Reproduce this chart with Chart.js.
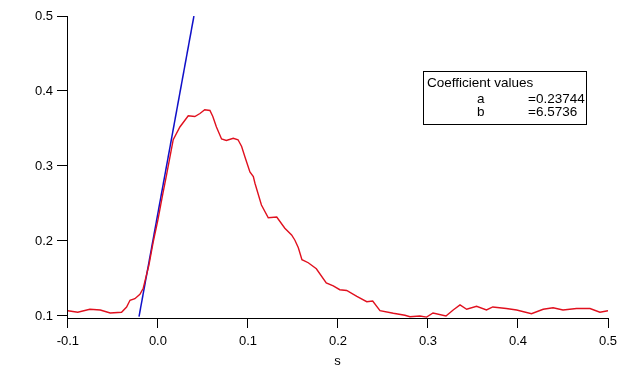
<!DOCTYPE html>
<html>
<head>
<meta charset="utf-8">
<script src="https://cdn.jsdelivr.net/npm/chart.js@4.4.1/dist/chart.umd.min.js"></script>
<style>
  html, body { margin: 0; padding: 0; background: #fff; }
  #wrap { width: 640px; height: 368px; }
</style>
</head>
<body>
<div id="wrap"><canvas id="myChart" width="640" height="368"></canvas></div>
<script>
// red trace
const sigX = [-0.1, -0.089, -0.0756, -0.064, -0.053, -0.0404, -0.0348, -0.031, -0.0256, -0.02, -0.0163,
  -0.01, -0.005, 0.0, 0.005, 0.0096, 0.017, 0.0244, 0.0337, 0.041, 0.0467, 0.052, 0.0578, 0.061,
  0.065, 0.0707, 0.076, 0.0837, 0.089, 0.093, 0.0967, 0.1022, 0.106, 0.1078, 0.115, 0.1226, 0.132,
  0.141, 0.1485, 0.1522, 0.156, 0.16, 0.167, 0.176, 0.187, 0.1948, 0.202, 0.2097, 0.221, 0.232,
  0.2386, 0.2467, 0.2615, 0.2744, 0.28, 0.291, 0.2985, 0.3056, 0.32, 0.328, 0.3356, 0.343, 0.354,
  0.365, 0.372, 0.387, 0.3985, 0.415, 0.428, 0.439, 0.45, 0.465, 0.48, 0.491, 0.5];
const sigY = [0.107, 0.105, 0.109, 0.108, 0.104, 0.105, 0.112, 0.121, 0.123, 0.129, 0.137,
  0.168, 0.2, 0.228, 0.26, 0.288, 0.335, 0.352, 0.367, 0.366, 0.370, 0.375, 0.374, 0.366,
  0.352, 0.336, 0.334, 0.337, 0.335, 0.326, 0.312, 0.292, 0.286, 0.277, 0.248, 0.231, 0.232,
  0.217, 0.208, 0.201, 0.191, 0.175, 0.171, 0.163, 0.144, 0.140, 0.135, 0.134, 0.126, 0.119,
  0.120, 0.107, 0.1036, 0.101, 0.099, 0.100, 0.0985, 0.104, 0.100, 0.108, 0.1147, 0.109, 0.113,
  0.108, 0.112, 0.110, 0.108, 0.103, 0.109, 0.111, 0.108, 0.110, 0.110, 0.105, 0.107];

// blue fitted line, end points
const fitX = [-0.021, 0.040];
const fitY = [0.099, 0.500];

const xTicks = [-0.1, 0.0, 0.1, 0.2, 0.3, 0.4, 0.5];
const yTicks = [0.1, 0.2, 0.3, 0.4, 0.5];

const coefNames = ['a', 'b'];
const coefValues = ['=0.23744', '=6.5736'];

const FONT = 'Arial, "Liberation Sans", sans-serif';

const coefBox = {
  id: 'coefBox',
  afterDraw(chart) {
    const c = chart.ctx;
    c.save();
    c.fillStyle = '#fff';
    c.fillRect(423, 71, 163, 53);
    c.strokeStyle = '#000';
    c.lineWidth = 1;
    c.strokeRect(423.5, 71.5, 163, 53);
    c.fillStyle = '#000';
    c.font = '13.5px ' + FONT;
    c.textBaseline = 'alphabetic';
    c.fillText('Coefficient values', 427, 87);
    coefNames.forEach((n, i) => {
      c.fillText(n, 477, 103 + i * 13);
      c.fillText(coefValues[i], 528, 103 + i * 13);
    });
    c.restore();
  }
};

const ctx = document.getElementById('myChart');
const myChart = new Chart(ctx, {
  type: 'scatter',
  data: {
    datasets: [{
      label: 'signal',
      data: sigX.map((x, i) => ({x: x, y: sigY[i]})),
      showLine: true,
      borderColor: '#e0101e',
      borderWidth: 1.4,
      pointRadius: 0,
      tension: 0
    }, {
      label: 'fit',
      data: fitX.map((x, i) => ({x: x, y: fitY[i]})),
      showLine: true,
      borderColor: '#1010c8',
      borderWidth: 1.5,
      pointRadius: 0
    }]
  },
  options: {
    responsive: false,
    animation: false,
    layout: { padding: { top: 16, right: 32, left: 0, bottom: 0 } },
    plugins: { legend: { display: false }, tooltip: { enabled: false } },
    scales: {
      x: {
        type: 'linear',
        min: -0.101,
        max: 0.5,
        afterBuildTicks: s => { s.ticks = xTicks.map(v => ({value: v})); },
        afterFit: s => { s.height = 50; },
        ticks: {
          color: '#000',
          font: { family: FONT, size: 13 },
          padding: 6,
          maxRotation: 0,
          callback: v => v.toFixed(1)
        },
        grid: { drawOnChartArea: false, drawTicks: true, tickLength: 10, color: '#000' },
        border: { color: '#000', width: 1 },
        title: {
          display: true,
          text: 's',
          color: '#000',
          font: { family: FONT, size: 13 },
          padding: { top: 0, bottom: -1 }
        }
      },
      y: {
        type: 'linear',
        min: 0.0973,
        max: 0.5,
        afterBuildTicks: s => { s.ticks = yTicks.map(v => ({value: v})); },
        afterFit: s => { s.width = 67; },
        ticks: {
          color: '#000',
          font: { family: FONT, size: 13 },
          padding: 4,
          callback: v => v.toFixed(1)
        },
        grid: { drawOnChartArea: false, drawTicks: true, tickLength: 10, color: '#000' },
        border: { color: '#000', width: 1 }
      }
    }
  },
  plugins: [coefBox]
});
</script>
</body>
</html>
